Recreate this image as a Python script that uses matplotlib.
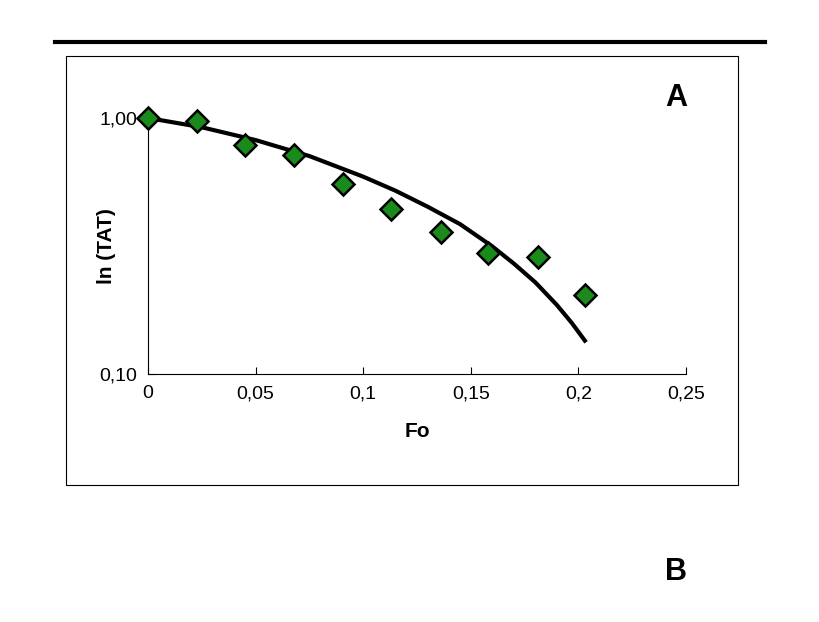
import matplotlib
matplotlib.use("Agg")
import matplotlib.pyplot as plt
from matplotlib.lines import Line2D
from matplotlib.patches import Rectangle

plt.rcParams['font.family'] = ['Liberation Sans', 'DejaVu Sans']

fo = [0, 0.0227, 0.045, 0.068, 0.0905, 0.113, 0.136, 0.158, 0.181, 0.203]
tat = [1.0, 0.973, 0.785, 0.717, 0.552, 0.441, 0.359, 0.297, 0.286, 0.204]
fit_x = [0, 0.025, 0.05, 0.075, 0.1, 0.115, 0.13, 0.145, 0.16, 0.17, 0.18, 0.19, 0.197, 0.203]
fit_y = [1.0, 0.92, 0.82, 0.71, 0.59, 0.52, 0.45, 0.385, 0.315, 0.27, 0.228, 0.186, 0.158, 0.135]
xticks = [0, 0.05, 0.1, 0.15, 0.2, 0.25]
xlabels = ["0", "0,05", "0,1", "0,15", "0,2", "0,25"]
yticks = [0.1, 1.0]
ylabels = ["0,10", "1,00"]

fig = plt.figure(figsize=(8.2, 6.22), dpi=100)
fig.patch.set_facecolor("white")
fig.add_artist(Rectangle((66/820, 1-485/622), 672/820, 429/622, transform=fig.transFigure,
                         fill=False, edgecolor="black", lw=0.8))
fig.add_artist(Line2D([55/820, 765/820], [1-42/622, 1-42/622], color="black", lw=3))
ax = fig.add_axes([148/820, 1-374/622, 538/820, 256/622])
ax.set_yscale("log")
ax.plot(fit_x, fit_y, color="black", lw=3, zorder=2)
ax.plot(fo, tat, ls="none", marker="D", ms=11, mfc="#1a8a1a", mec="black", mew=1.8,
        clip_on=False, zorder=3)
ax.set_xlim(0, 0.25)
ax.set_ylim(0.1, 1.0)
ax.set_xticks(xticks)
ax.set_xticklabels(xlabels, fontsize=14)
ax.set_yticks(yticks)
ax.set_yticklabels(ylabels, fontsize=14)
ax.minorticks_off()
ax.tick_params(direction="in", length=5, pad=8)
for s in ["top", "right"]:
    ax.spines[s].set_visible(False)
ax.set_xlabel("Fo", fontsize=15, fontweight="bold", labelpad=14)
ax.set_ylabel("ln (TAT)", fontsize=15, fontweight="bold", labelpad=-8)
ax.yaxis.set_label_coords(-0.06, 0.5)
fig.text(676/820, 1-98/622, "A", fontsize=22, fontweight="bold", ha="center", va="center")
fig.text(676/820, 1-572/622, "B", fontsize=22, fontweight="bold", ha="center", va="center")
fig.savefig("out.png", dpi=100)
